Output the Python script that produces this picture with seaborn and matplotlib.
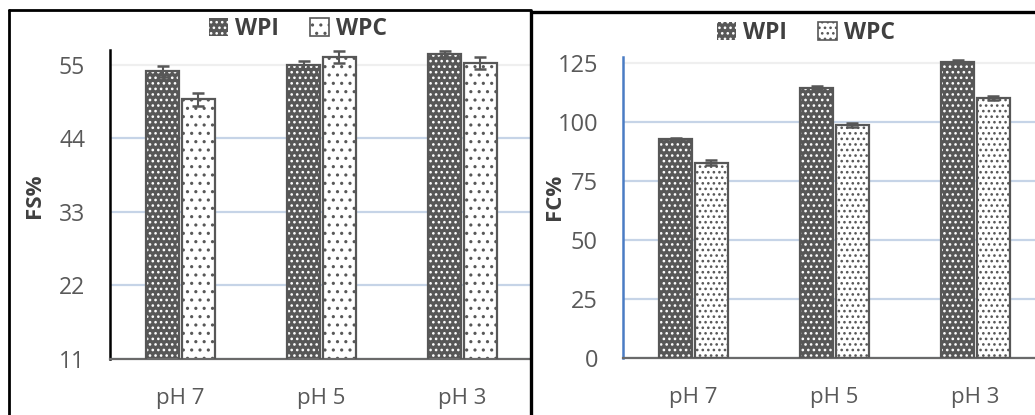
import pandas as pd
import matplotlib.pyplot as plt
import seaborn as sns
from matplotlib.patches import Patch, Rectangle
from matplotlib.lines import Line2D

# ── Data ──────────────────────────────────────────────────────────
categories = ['pH 7', 'pH 5', 'pH 3']
series = ['WPI', 'WPC']

fs_wpi = [54.0, 55.0, 56.6]
fs_wpi_err = [0.8, 0.6, 0.5]
fs_wpc = [49.8, 56.2, 55.2]
fs_wpc_err = [1.0, 0.9, 0.9]

fc_wpi = [92.8, 114.7, 125.7]
fc_wpi_err = [0.7, 0.6, 0.6]
fc_wpc = [82.9, 98.7, 110.4]
fc_wpc_err = [0.9, 0.9, 0.9]

fs_ticks = [11, 22, 33, 44, 55]
fc_ticks = [0, 25, 50, 75, 100, 125]

sns.set_style('white')
plt.rcParams['font.family'] = ['Open Sans', 'DejaVu Sans']
plt.rcParams['hatch.linewidth'] = 1.1

DARK = '#575757'
GRID = '#c6d4e7'
W, H = 1035, 415


def long_form(wpi, wpc):
    return pd.DataFrame({
        'pH': categories * 2,
        'series': ['WPI'] * 3 + ['WPC'] * 3,
        'value': wpi + wpc,
    })


def draw_panel(ax, df, errs, ticks, ylim, label, spine_color, tick_fs, hatches):
    sns.barplot(data=df, x='pH', y='value', hue='series', hue_order=series,
                palette=[DARK, 'white'], width=0.5, gap=0.06, legend=False, ax=ax)
    for container, err, (face, dots, hatch) in zip(ax.containers, errs, hatches):
        for bar, e in zip(container, err):
            bar.set_facecolor(face)
            bar.set_edgecolor(dots)
            bar.set_hatch(hatch)
            bar.set_linewidth(0)
            ax.add_patch(Rectangle(bar.get_xy(), bar.get_width(), bar.get_height(),
                                   fill=False, edgecolor=DARK, linewidth=1.6, zorder=3))
            ax.errorbar(bar.get_x() + bar.get_width() / 2, bar.get_height(), yerr=e,
                        color=DARK, capsize=4.5, capthick=1.8, elinewidth=1.5, zorder=4)
    ax.set_ylim(*ylim)
    ax.set_yticks(ticks)
    ax.tick_params(axis='both', length=0, colors='#595959', labelsize=tick_fs)
    ax.tick_params(axis='y', pad=18)
    ax.tick_params(axis='x', pad=21, labelsize=16)
    ax.grid(axis='y', color=GRID, linewidth=1.6)
    ax.set_axisbelow(True)
    ax.yaxis.get_gridlines()[-1].set_color('#efefef')
    for s in ['top', 'right']:
        ax.spines[s].set_visible(False)
    ax.spines['left'].set_color(spine_color)
    ax.spines['left'].set_linewidth(1.8)
    ax.spines['bottom'].set_color('#6a6a6a')
    ax.spines['bottom'].set_linewidth(1.6)
    ax.set_xlabel('')
    ax.set_ylabel(label, fontsize=16, fontweight='bold', color='#404040')


fig = plt.figure(figsize=(W / 100, H / 100), dpi=100)

# left panel: FS%
ax1 = fig.add_axes([110 / W, (H - 359) / H, 420 / W, 309 / H])
draw_panel(ax1, long_form(fs_wpi, fs_wpc), [fs_wpi_err, fs_wpc_err], fs_ticks,
           (11, 57.2), 'FS%', 'black', 16.5,
           [(DARK, 'white', '...'), ('white', DARK, '..')])
ax1.set_xlim(-0.5, -0.5 + 420 / 141)
ax1.yaxis.set_label_coords(-0.155, 0.527)

# right panel: FC%
ax2 = fig.add_axes([623 / W, (H - 358.3) / H, 412 / W, 301 / H])
draw_panel(ax2, long_form(fc_wpi, fc_wpc), [fc_wpi_err, fc_wpc_err], fc_ticks,
           (0, 127.5), 'FC%', '#4a7cc4', 17,
           [(DARK, 'white', '...'), ('white', DARK, '...')])
ax2.set_xlim(-0.5, -0.5 + 412 / 141)
ax2.yaxis.set_label_coords(-0.14, 0.535)

# legends
for cx, cy, wpc_hatch in [(298, 29, '..'), (806, 33, '...')]:
    handles = [Patch(facecolor=DARK, edgecolor='white', hatch='...', linewidth=0),
               Patch(facecolor='white', edgecolor=DARK, hatch=wpc_hatch, linewidth=1.2)]
    leg = fig.legend(handles, series, loc='center', ncol=2, frameon=False,
                     bbox_to_anchor=(cx / W, 1 - cy / H), handlelength=0.8,
                     handleheight=0.8, handletextpad=0.3, columnspacing=1.4,
                     prop={'size': 16.5, 'weight': 'bold'})
    for t in leg.get_texts():
        t.set_color('#404040')

# panel borders
def fig_line(x0, y0, x1, y1, lw):
    fig.add_artist(Line2D([x0 / W, x1 / W], [1 - y0 / H, 1 - y1 / H],
                          transform=fig.transFigure, color='black', linewidth=lw))

fig_line(9, 10, 9, H, 2.0)
fig_line(9, 10, 531, 10, 2.0)
fig_line(531, 12, 531, H, 2.4)
fig_line(531, 12, W, 12, 2.4)

plt.savefig('out.png', dpi=100)
